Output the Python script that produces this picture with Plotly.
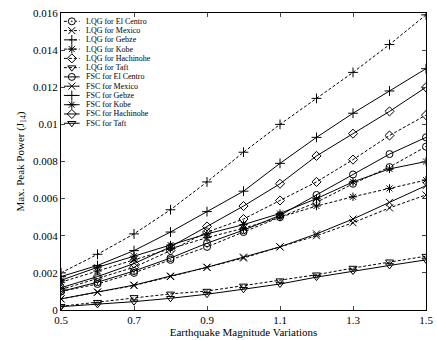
import plotly.graph_objects as go

x = [0.5, 0.6, 0.7, 0.8, 0.9, 1.0, 1.1, 1.2, 1.3, 1.4, 1.5]

lqg_el_centro = [0.0010, 0.0014, 0.0020, 0.0027, 0.0034, 0.0042, 0.0050, 0.0058, 0.0068, 0.0077, 0.0088]
lqg_mexico = [0.0006, 0.00095, 0.00132, 0.0018, 0.0023, 0.0028, 0.0034, 0.0040, 0.0047, 0.0055, 0.0062]
lqg_gebze = [0.0020, 0.0030, 0.0041, 0.0054, 0.0069, 0.0085, 0.0100, 0.0114, 0.0128, 0.0143, 0.0159]
lqg_kobe = [0.0015, 0.0021, 0.0027, 0.0033, 0.0039, 0.0044, 0.0050, 0.0056, 0.0061, 0.00655, 0.0070]
lqg_hachinohe = [0.0011, 0.0017, 0.0023, 0.0032, 0.0042, 0.0049, 0.0059, 0.0069, 0.0081, 0.0094, 0.0105]
lqg_taft = [0.0002, 0.00042, 0.00068, 0.00087, 0.00102, 0.0013, 0.00158, 0.0019, 0.00226, 0.0026, 0.0029]

fsc_el_centro = [0.0010, 0.0015, 0.0021, 0.0028, 0.0036, 0.0043, 0.0051, 0.0062, 0.0073, 0.0084, 0.0093]
fsc_mexico = [0.0006, 0.00097, 0.00134, 0.00183, 0.0023, 0.00285, 0.0034, 0.0041, 0.0049, 0.0058, 0.0067]
fsc_gebze = [0.0018, 0.0024, 0.0032, 0.0042, 0.0053, 0.0064, 0.0079, 0.0093, 0.0106, 0.0118, 0.0130]
fsc_kobe = [0.0016, 0.0023, 0.0029, 0.0035, 0.0041, 0.0046, 0.0052, 0.0060, 0.0069, 0.0076, 0.0080]
fsc_hachinohe = [0.0012, 0.0018, 0.0025, 0.0034, 0.0045, 0.0056, 0.0068, 0.0083, 0.0095, 0.0107, 0.0120]
fsc_taft = [0.00018, 0.0003, 0.00045, 0.00063, 0.00085, 0.00112, 0.0014, 0.00177, 0.0021, 0.0024, 0.0027]

x_ticks = [0.5, 0.7, 0.9, 1.1, 1.3, 1.5]
x_tick_labels = ["0.5", "0.7", "0.9", "1.1", "1.3", "1.5"]
y_ticks = [0, 0.002, 0.004, 0.006, 0.008, 0.01, 0.012, 0.014, 0.016]
y_tick_labels = ["0", "0.002", "0.004", "0.006", "0.008", "0.01", "0.012", "0.014", "0.016"]

series_names = ["LQG for El Centro", "LQG for Mexico", "LQG for Gebze", "LQG for Kobe",
                "LQG for Hachinohe", "LQG for Taft", "FSC for El Centro", "FSC for Mexico",
                "FSC for Gebze", "FSC for Kobe", "FSC for Hachinohe", "FSC for Taft"]
series_values = [lqg_el_centro, lqg_mexico, lqg_gebze, lqg_kobe, lqg_hachinohe, lqg_taft,
                 fsc_el_centro, fsc_mexico, fsc_gebze, fsc_kobe, fsc_hachinohe, fsc_taft]

DASH = "3px,2px"
styles = [
    (DASH, "circle-dot"), (DASH, "x-thin-open"), (DASH, "cross-thin-open"),
    (DASH, "asterisk-open"), (DASH, "diamond-open"), (DASH, "triangle-down-open"),
    ("solid", "circle-open"), ("solid", "x-thin-open"), ("solid", "cross-thin-open"),
    ("solid", "asterisk-open"), ("solid", "diamond-open"), ("solid", "triangle-down-open"),
]

fig = go.Figure()


def marker_for(sym):
    if sym == "circle-dot":
        return dict(symbol=sym, size=7, color="white", line=dict(color="black", width=1))
    return dict(symbol=sym, size=7, color="black", line=dict(color="black", width=1))


for name, ys, (dash, sym) in zip(series_names, series_values, styles):
    fig.add_trace(go.Scatter(
        x=x, y=ys, name=name, mode="lines+markers", showlegend=False,
        line=dict(color="black", width=1, dash=dash),
        marker=marker_for(sym),
    ))

# compact legend drawn on an overlay axis with [0,1] range
font_family = "Liberation Serif, Times New Roman, serif"
leg_top = 0.972
leg_step = 0.0312
annotations = []
for i, (name, (dash, sym)) in enumerate(zip(series_names, styles)):
    yy = leg_top - i * leg_step
    fig.add_trace(go.Scatter(
        x=[0.008, 0.0296, 0.051], y=[yy, yy, yy], mode="lines",
        line=dict(color="black", width=1, dash=dash),
        xaxis="x2", yaxis="y2", showlegend=False, hoverinfo="skip",
    ))
    fig.add_trace(go.Scatter(
        x=[0.0296], y=[yy], mode="markers", marker=marker_for(sym),
        xaxis="x2", yaxis="y2", showlegend=False, hoverinfo="skip",
    ))
    annotations.append(dict(
        x=0.062, y=yy, xref="x2", yref="y2", text=name, showarrow=False,
        xanchor="left", yanchor="middle", font=dict(size=8, family=font_family),
    ))

fig.update_layout(
    width=437, height=340,
    margin=dict(l=61, r=4, t=13, b=29),
    paper_bgcolor="white", plot_bgcolor="white",
    font=dict(family=font_family, size=11, color="black"),
    showlegend=False,
    annotations=annotations,
    xaxis=dict(range=[0.5, 1.5], tickvals=x_ticks, ticktext=x_tick_labels,
               ticks="inside", ticklen=4, showline=True, linecolor="black",
               linewidth=1, mirror="ticks", showgrid=False, zeroline=False,
               ticklabeloverflow="allow",
               title=dict(text="Earthquake Magnitude Variations", standoff=2,
                          font=dict(size=11))),
    yaxis=dict(range=[0, 0.016], tickvals=y_ticks, ticktext=y_tick_labels,
               ticks="inside", ticklen=4, showline=True, linecolor="black",
               linewidth=1, mirror="ticks", showgrid=False, zeroline=False,
               ticklabeloverflow="allow",
               title=dict(text="Max. Peak Power (J<sub>14</sub>)", standoff=6,
                          font=dict(size=11))),
    xaxis2=dict(range=[0, 1], overlaying="x", visible=False, fixedrange=True),
    yaxis2=dict(range=[0, 1], overlaying="y", visible=False, fixedrange=True),
)

fig.write_html("out.html")
